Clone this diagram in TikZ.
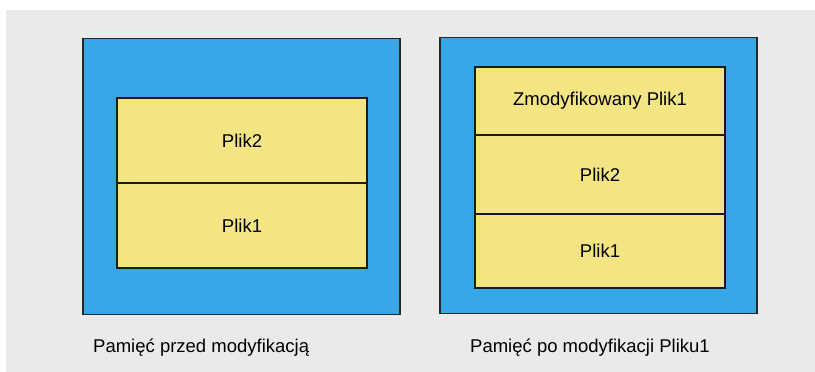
\documentclass[tikz,border=0pt]{standalone}
\usepackage{fontspec}
\setmainfont{Liberation Sans}
\usetikzlibrary{positioning}

\definecolor{bggray}{HTML}{EAEAEA}
\definecolor{memblue}{HTML}{36A6E7}
\definecolor{fileyellow}{HTML}{F3E584}

\tikzset{
  memory/.style={draw=black!85, line width=1.6pt, fill=memblue,
    minimum width=317pt, minimum height=276pt, inner sep=0pt},
  file/.style={draw=black!90, line width=1.6pt, fill=fileyellow,
    minimum width=250pt, inner sep=0pt, outer sep=0pt},
  caption/.style={anchor=base west, inner sep=0pt}
}

\begin{document}
\begin{tikzpicture}[x=1pt, y=-1pt, font=\fontsize{18.5}{22}\selectfont]
     \useasboundingbox (0,0) rectangle (815,372);
     \fill[bggray] (6,10) rectangle (815,372);

     % memory before the change
     \node[memory] (memA) at (241.5,176.5) {};
     \node[file, minimum height=85pt] (plik2A) at (242,140.5) {Plik2};
     \node[file, minimum height=85pt, below=0pt of plik2A] (plik1A) {Plik1};

     % memory after the change
     \node[memory] (memB) at (598.5,175.5) {};
     \node[file, minimum height=68pt] (zmodB) at (600,101) {Zmodyfikowany Plik1};
     \node[file, minimum height=79pt, below=0pt of zmodB] (plik2B) {Plik2};
     \node[file, minimum height=74pt, below=0pt of plik2B] (plik1B) {Plik1};

     \node[caption] (capA) at (93,352) {Pamięć przed modyfikacją};
     \node[caption] (capB) at (470,352) {Pamięć po modyfikacji Pliku1};
    \end{tikzpicture}
\end{document}
